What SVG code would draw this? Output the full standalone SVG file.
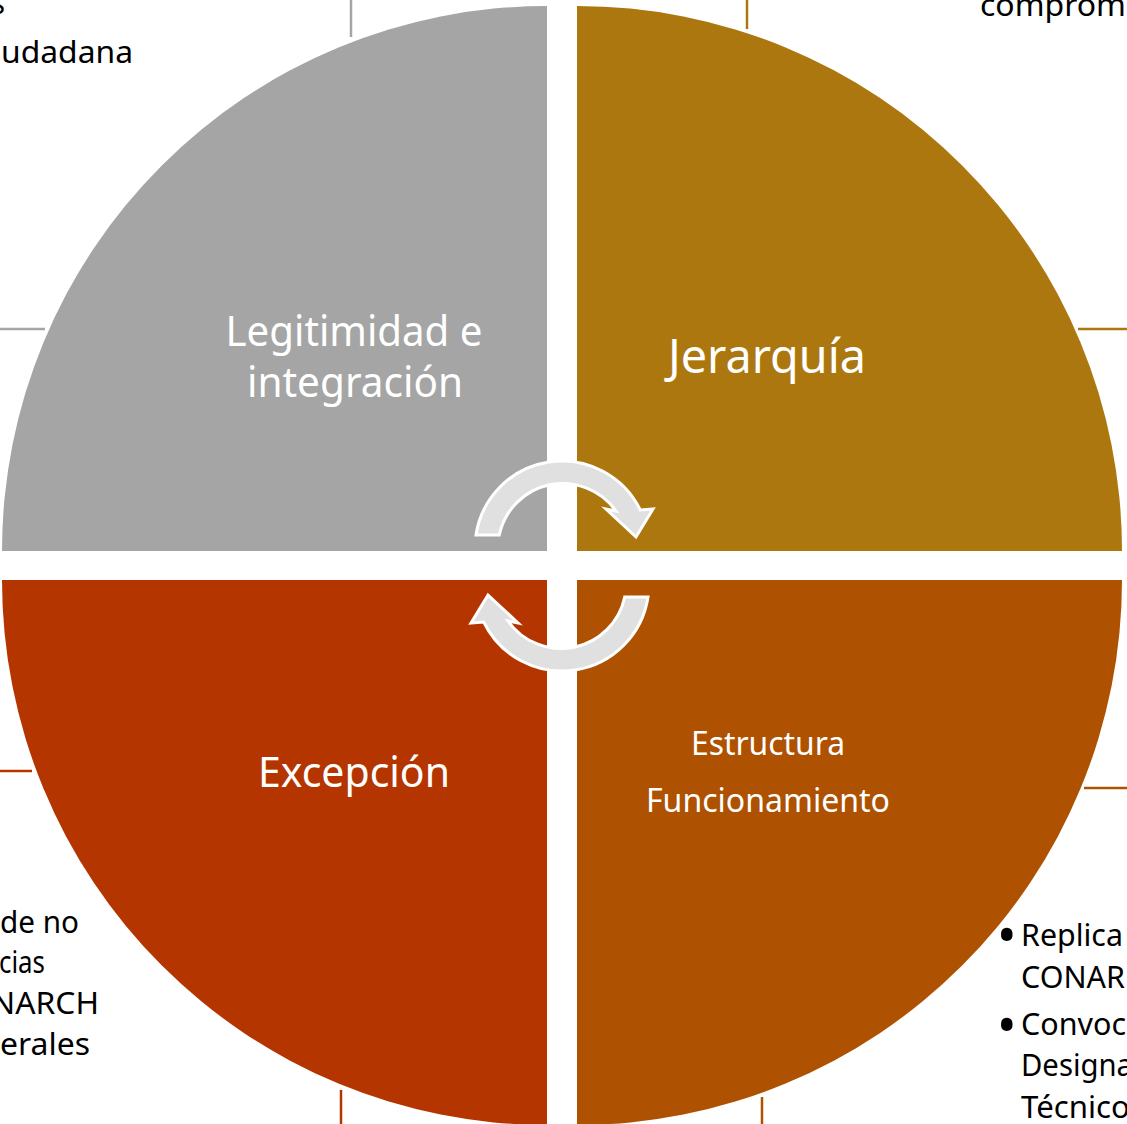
<svg xmlns="http://www.w3.org/2000/svg" xmlns:xlink="http://www.w3.org/1999/xlink" width="1127" height="1124" viewBox="0 0 1127 1124">
  <style>
    .lbl { font-family: "Noto Sans", "Open Sans", sans-serif; fill: #FFFFFF; text-anchor: middle; }
    .side { font-family: "Noto Sans", "Open Sans", sans-serif; fill: #000000; font-size: 31px; }
    .bullet { font-size: 52px; }
    .arrow { fill: #E0E0E0; stroke: #FFFFFF; stroke-width: 3; stroke-linejoin: miter; }
  </style>
  <defs>
    <path id="arc-arrow" class="arrow" d="M476,535 A87,87 0 0 1 640.3,510 L653,509 L636,537 L606,509 L616,511 A65,65 0 0 0 499.3,535 Z"/>
  </defs>
  <rect width="1127" height="1124" fill="#FFFFFF"/>

  <g id="callout-lines" stroke-width="2.5">
    <line x1="351" y1="0" x2="351" y2="37" stroke="#A5A5A5"/>
    <line x1="0" y1="329" x2="45" y2="329" stroke="#A5A5A5"/>
    <line x1="747" y1="0" x2="747" y2="29" stroke="#AD7710"/>
    <line x1="1078" y1="329" x2="1127" y2="329" stroke="#AD7710"/>
    <line x1="0" y1="771" x2="32" y2="771" stroke="#B43500"/>
    <line x1="1084" y1="788" x2="1127" y2="788" stroke="#AE5100"/>
    <line x1="341" y1="1090" x2="341" y2="1124" stroke="#B43500"/>
    <line x1="762" y1="1097" x2="762" y2="1124" stroke="#AE5100"/>
  </g>

  <g id="side-texts" class="side">
    <text x="-9" y="14" textLength="14" lengthAdjust="spacingAndGlyphs">s</text>
    <text x="1" y="63" textLength="132" lengthAdjust="spacingAndGlyphs">udadana</text>
    <text x="980" y="16" textLength="146" lengthAdjust="spacingAndGlyphs">comprom</text>
    <text x="0" y="933" textLength="79" lengthAdjust="spacingAndGlyphs">de no</text>
    <text x="-1" y="973" textLength="46" lengthAdjust="spacingAndGlyphs">cias</text>
    <text x="-9" y="1014" textLength="108" lengthAdjust="spacingAndGlyphs">NARCH</text>
    <text x="0" y="1055" textLength="90" lengthAdjust="spacingAndGlyphs">erales</text>
    <text class="bullet" x="997" y="954">•</text>
    <text x="1021" y="946" textLength="102" lengthAdjust="spacingAndGlyphs">Replica</text>
    <text x="1021" y="988" textLength="104" lengthAdjust="spacingAndGlyphs">CONAR</text>
    <text class="bullet" x="997" y="1044">•</text>
    <text x="1021" y="1035" textLength="105" lengthAdjust="spacingAndGlyphs">Convoc</text>
    <text x="1021" y="1076" textLength="112" lengthAdjust="spacingAndGlyphs">Designa</text>
    <text x="1021" y="1118" textLength="109" lengthAdjust="spacingAndGlyphs">Técnico</text>
  </g>

  <g id="node-legitimidad">
    <path d="M547,551 L2,551 A545,545 0 0 1 547,6 Z" fill="#A5A5A5"/>
    <text class="lbl" x="354" y="346" font-size="41" textLength="257" lengthAdjust="spacingAndGlyphs">Legitimidad e</text>
    <text class="lbl" x="355" y="397" font-size="41" textLength="216" lengthAdjust="spacingAndGlyphs">integración</text>
  </g>

  <g id="node-jerarquia">
    <path d="M577,551 L577,6 A545,545 0 0 1 1122,551 Z" fill="#AD7710"/>
    <text class="lbl" x="767" y="373" font-size="47" textLength="198" lengthAdjust="spacingAndGlyphs">Jerarquía</text>
  </g>

  <g id="node-estructura">
    <path d="M577,580 L1122,580 A545,545 0 0 1 577,1125 Z" fill="#AE5100"/>
    <text class="lbl" x="768" y="755" font-size="33" textLength="154" lengthAdjust="spacingAndGlyphs">Estructura</text>
    <text class="lbl" x="768" y="812" font-size="33" textLength="244" lengthAdjust="spacingAndGlyphs">Funcionamiento</text>
  </g>

  <g id="node-excepcion">
    <path d="M547,580 L547,1125 A545,545 0 0 1 2,580 Z" fill="#B43500"/>
    <text class="lbl" x="354" y="787" font-size="42" textLength="192" lengthAdjust="spacingAndGlyphs">Excepción</text>
  </g>

  <g id="connectors">
    <use xlink:href="#arc-arrow"/>
    <use xlink:href="#arc-arrow" transform="rotate(180 562 566)"/>
  </g>
</svg>
